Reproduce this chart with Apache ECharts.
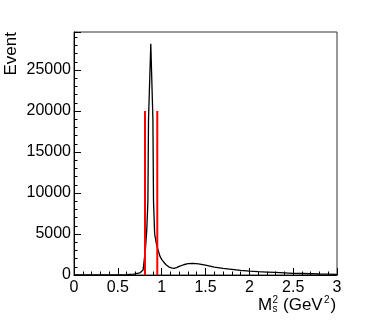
<!DOCTYPE html>
<html>
<head>
    <meta charset="utf-8">
    <title>M_s^2 distribution</title>
    <script src="https://cdn.jsdelivr.net/npm/echarts@6/dist/echarts.min.js"></script>
    <style>
        html, body { margin: 0; padding: 0; background: #fff; }
        #main { width: 374px; height: 324px; }
    </style>
</head>
<body>
<div id="main"></div>
<script>
    // M_s^2 (GeV^2) and event counts
    var massSq = [0, 0.3, 0.5, 0.6, 0.68, 0.75, 0.788, 0.814, 0.83, 0.843, 0.85, 0.876,
        0.90, 0.907, 0.92, 0.94, 0.959, 0.98, 1.0, 1.02, 1.05, 1.08, 1.11, 1.14,
        1.17, 1.2, 1.25, 1.3, 1.36, 1.42, 1.5, 1.6, 1.7, 1.8, 1.9, 2.0, 2.1,
        2.2, 2.3, 2.4, 2.5, 2.6, 2.7, 2.8, 2.9, 3.0];
    var events = [0, 5, 20, 50, 100, 250, 600, 3050, 5500, 9000, 19000, 28200,
        19000, 9000, 5000, 3800, 3050, 2300, 1900, 1620, 1250, 1000, 860, 820,
        900, 1050, 1250, 1380, 1430, 1360, 1200, 950, 800, 680, 560, 480, 410,
        360, 310, 260, 210, 180, 150, 120, 100, 80];

    // red selection window
    var cutEdges = [0.81, 0.95];
    var cutHeight = 20000;

    var xMax = 3;
    var yMax = 29634;

    var curve = massSq.map(function (x, i) { return [x, events[i]]; });

    var chart = echarts.init(document.getElementById('main'));
    var font = 'Liberation Sans, Arial, sans-serif';

    var series = [{
        type: 'line',
        data: curve,
        symbol: 'none',
        smooth: false,
        lineStyle: { color: '#000', width: 1.3 },
        z: 2
    }];
    cutEdges.forEach(function (x) {
        series.push({
            type: 'line',
            data: [[x, 0], [x, cutHeight]],
            symbol: 'none',
            lineStyle: { color: '#ff0000', width: 2 },
            z: 3
        });
    });

    chart.setOption({
        animation: false,
        grid: {
            left: 74, right: 37, top: 32, bottom: 49,
            show: true, borderColor: '#333', borderWidth: 1
        },
        xAxis: {
            type: 'value', min: 0, max: xMax, interval: 0.5,
            axisLine: { lineStyle: { color: '#000' } },
            axisTick: { inside: true, length: 7, lineStyle: { color: '#000' } },
            minorTick: { show: true, splitNumber: 5, length: 3.5, lineStyle: { color: '#000' } },
            splitLine: { show: false },
            axisLabel: { color: '#000', fontSize: 16, fontFamily: font, margin: 5 }
        },
        yAxis: {
            type: 'value', min: 0, max: yMax, interval: 5000,
            axisLine: { lineStyle: { color: '#000' } },
            axisTick: { inside: true, length: 7, lineStyle: { color: '#000' } },
            minorTick: { show: true, splitNumber: 5, length: 3.5, lineStyle: { color: '#000' } },
            splitLine: { show: false },
            axisLabel: {
                color: '#000', fontSize: 16, fontFamily: font, margin: 3, showMaxLabel: false,
                formatter: function (v) { return String(v); }
            }
        },
        series: series,
        graphic: [
            { type: 'text', x: 11, y: 32, rotation: Math.PI / 2,
              style: { text: 'Event', fill: '#000', font: '17px ' + font, textAlign: 'right', textVerticalAlign: 'middle' } },
            { type: 'text', x: 258, y: 305,
              style: { text: 'M', fill: '#000', font: '17px ' + font, textAlign: 'left', textVerticalAlign: 'middle' } },
            { type: 'text', x: 272.5, y: 300.5,
              style: { text: '2', fill: '#000', font: '10px ' + font, textAlign: 'left', textVerticalAlign: 'middle' } },
            { type: 'text', x: 272.5, y: 309.5,
              style: { text: 's', fill: '#000', font: '10px ' + font, textAlign: 'left', textVerticalAlign: 'middle' } },
            { type: 'text', x: 283, y: 305,
              style: { text: '(GeV', fill: '#000', font: '17px ' + font, textAlign: 'left', textVerticalAlign: 'middle' } },
            { type: 'text', x: 324, y: 300.5,
              style: { text: '2', fill: '#000', font: '10px ' + font, textAlign: 'left', textVerticalAlign: 'middle' } },
            { type: 'text', x: 330.5, y: 305,
              style: { text: ')', fill: '#000', font: '17px ' + font, textAlign: 'left', textVerticalAlign: 'middle' } }
        ]
    });
</script>
</body>
</html>
